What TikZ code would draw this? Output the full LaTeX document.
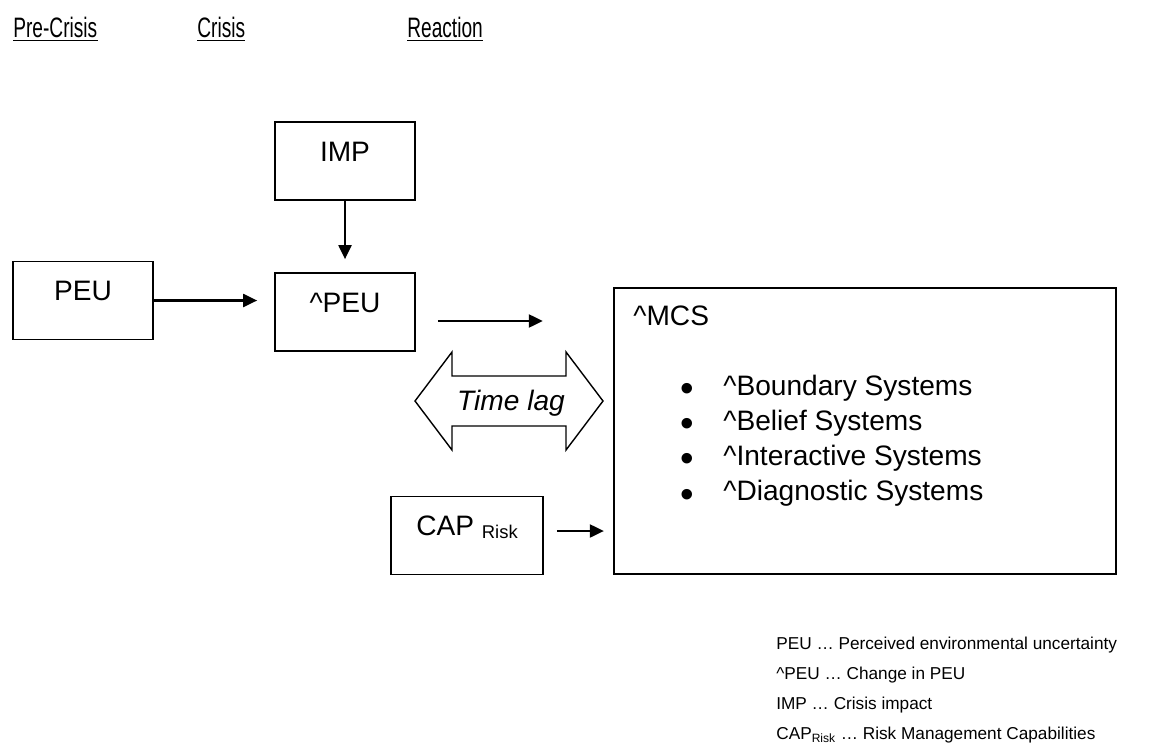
\documentclass[tikz,border=0pt]{standalone}
\usepackage{fontspec}
\setmainfont{Liberation Sans}
\newfontfamily\narrowfont[FakeStretch=0.68]{Liberation Sans}
\usetikzlibrary{positioning,arrows.meta}
\tikzset{box/.style={draw,rectangle,line width=1pt,minimum width=2.8cm,text height=0.78cm,text depth=0.78cm,inner ysep=0pt,font=\fontsize{16}{19}\selectfont},
	arr/.style={line width=1.2pt,-{Triangle[length=0.28cm,width=0.26cm]}},
	phase/.style={anchor=base west,inner sep=0pt,font=\narrowfont\fontsize{16}{19}\selectfont},
	item/.style={anchor=base west,inner sep=0pt,font=\fontsize{16}{19}\selectfont},
	legend/.style={anchor=base west,inner sep=0pt,font=\fontsize{9.8}{12}\selectfont}}
\newcommand{\bul}{\makebox[0.86cm][l]{\fontsize{22}{22}\selectfont\raisebox{-0.3ex}{\textbullet}}}

\begin{document}
\begin{tikzpicture}[x=0.02cm,y=-0.02cm]
	\useasboundingbox (0,0) rectangle (1152,747);

	% phases
	\node[phase] (pre) at (13,37) {Pre-Crisis};
	\node[phase] (crisis) at (197,37) {Crisis};
	\node[phase] (reaction) at (407,37) {Reaction};
	\draw[line width=1.1pt] ([yshift=-0.07cm]pre.base west) -- ([yshift=-0.07cm]pre.base east);
	\draw[line width=1.1pt] ([yshift=-0.07cm]crisis.base west) -- ([yshift=-0.07cm]crisis.base east);
	\draw[line width=1.1pt] ([yshift=-0.07cm]reaction.base west) -- ([yshift=-0.07cm]reaction.base east);

	% boxes
	\node[box] (peu) at (83,300.5) {PEU};
	\node[box] (dpeu) at (345,312) {\textasciicircum PEU};
	\node[box] (imp) [above=1.42cm of dpeu] {IMP};
	\node[box,minimum width=3.04cm] (cap) at (467,535.5) {CAP {\fontsize{10.5}{12}\selectfont\raisebox{-0.06cm}{Risk}}};
	\node[draw,line width=1pt,minimum width=10.04cm,minimum height=5.72cm,inner sep=0pt] (mcs) at (865,431) {};

	% inside MCS
	\node[item] (mcstitle) at (633,325) {\textasciicircum MCS};
	\node[item] (sys1) at (680,395) {\bul\textasciicircum Boundary Systems};
	\node[item] (sys2) [below=0.706cm of sys1.base west,anchor=base west] {\bul\textasciicircum Belief Systems};
	\node[item] (sys3) [below=0.706cm of sys2.base west,anchor=base west] {\bul\textasciicircum Interactive Systems};
	\node[item] (sys4) [below=0.706cm of sys3.base west,anchor=base west] {\bul\textasciicircum Diagnostic Systems};

	% time lag
	\draw[line width=0.8pt] (415,401) -- (452,352) -- (452,376) -- (566,376) -- (566,352) -- (603,401)
		-- (566,450) -- (566,426) -- (452,426) -- (452,450) -- cycle;
	\node[item,anchor=base,font=\itshape\fontsize{16}{19}\selectfont] (lag) at (511,410) {Time lag};

	% arrows
	\draw[arr,shorten >=0.34cm] (peu.east) -- (peu.east -| dpeu.west);
	\draw[arr,shorten >=0.26cm] (imp.south) -- (dpeu.north);
	\draw[arr] ([shift={(0.44cm,-0.18cm)}]dpeu.east) -- ([shift={(2.54cm,-0.18cm)}]dpeu.east);
	\draw[arr] ([shift={(0.26cm,0.09cm)}]cap.east) -- ([shift={(1.2cm,0.09cm)}]cap.east);

	% legend
	\node[legend] (lg1) at (776,649) {PEU … Perceived environmental uncertainty};
	\node[legend] (lg2) [below=0.606cm of lg1.base west,anchor=base west] {\textasciicircum PEU … Change in PEU};
	\node[legend] (lg3) [below=0.606cm of lg2.base west,anchor=base west] {IMP … Crisis impact};
	\node[legend] (lg4) [below=0.606cm of lg3.base west,anchor=base west] {CAP\textsubscript{Risk} … Risk Management Capabilities};
\end{tikzpicture}
\end{document}
